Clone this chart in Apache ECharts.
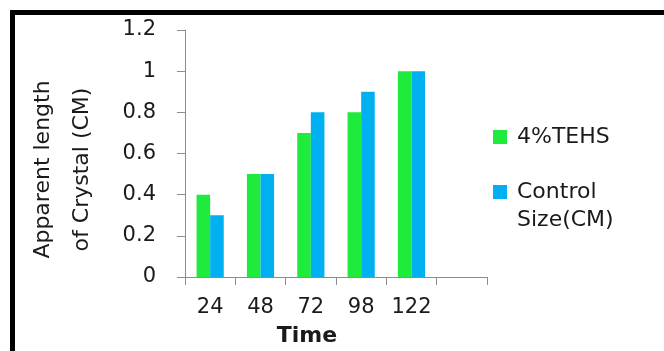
<!DOCTYPE html>
<html>
<head>
<meta charset="utf-8">
<script src="https://cdn.jsdelivr.net/npm/echarts@6/dist/echarts.min.js"></script>
<style>
  html, body { margin: 0; padding: 0; background: #fff; }
  #chart-container { width: 664px; height: 351px; }
</style>
</head>
<body>
<div id="chart-container"></div>
<script>
var times = ['24', '48', '72', '98', '122', ''];
var tehs = [0.4, 0.5, 0.7, 0.8, 1.0, null];
var control = [0.3, 0.5, 0.8, 0.9, 1.0, null];
var yTicks = { min: 0, max: 1.2, interval: 0.2 };

var dom = document.getElementById('chart-container');
var myChart = echarts.init(dom, null, { renderer: 'canvas' });

var font = 'DejaVu Sans';
var textColor = '#1a1a1a';
var axisGray = '#8c8c8c';
// 14px square at top-left, plus a tiny speck in the far corner to size the icon box
var squareIcon = 'path://M0,0H14V14H0ZM18.9,13.9H19V14H18.9Z';
var tallIcon = 'path://M0,0H14V14H0ZM18.9,41.9H19V42H18.9Z';

var option = {
    animation: false,
    backgroundColor: '#fff',
    graphic: [{
        type: 'rect',
        shape: { x: 12.5, y: 12.5, width: 720, height: 420 },
        style: { fill: null, stroke: '#000', lineWidth: 5 },
        silent: true
    }],
    grid: { left: 185, right: 177, top: 30, bottom: 74, outerBoundsMode: 'none' },
    legend: [{
        data: ['4%TEHS'],
        orient: 'vertical',
        left: 493,
        top: 123,
        padding: 0,
        icon: squareIcon,
        itemWidth: 19,
        itemHeight: 14,
        textStyle: { fontFamily: font, fontSize: 22, color: textColor, lineHeight: 28 }
    }, {
        data: ['Control\nSize(CM)'],
        orient: 'vertical',
        left: 493,
        top: 178,
        padding: 0,
        icon: tallIcon,
        itemWidth: 19,
        itemHeight: 42,
        textStyle: { fontFamily: font, fontSize: 22, color: textColor, lineHeight: 28 }
    }],
    xAxis: {
        type: 'category',
        data: times,
        name: 'Time',
        nameLocation: 'middle',
        nameGap: 48,
        nameTextStyle: { fontFamily: font, fontSize: 22, fontWeight: 'bold', color: textColor, padding: [0, 58, 0, 0] },
        axisLine: { lineStyle: { color: axisGray, width: 1 } },
        axisTick: { show: true, length: 8, lineStyle: { color: axisGray } },
        axisLabel: { interval: 0, fontFamily: font, fontSize: 21, color: textColor, margin: 20 }
    },
    yAxis: {
        type: 'value',
        min: yTicks.min,
        max: yTicks.max,
        interval: yTicks.interval,
        name: 'Apparent length\nof Crystal (CM)',
        nameLocation: 'middle',
        nameGap: 83,
        nameTextStyle: { fontFamily: font, fontSize: 22, color: textColor, lineHeight: 39, padding: [0, 32, 0, 0] },
        axisLine: { show: true, lineStyle: { color: axisGray, width: 1 } },
        axisTick: { show: true, length: 8, lineStyle: { color: axisGray } },
        splitLine: { show: false },
        axisLabel: { fontFamily: font, fontSize: 21, color: textColor, margin: 29 }
    },
    series: [{
        name: '4%TEHS',
        type: 'bar',
        data: tehs,
        barGap: '0%',
        barCategoryGap: '46%',
        itemStyle: { color: '#1eeb3c' }
    }, {
        name: 'Control\nSize(CM)',
        type: 'bar',
        data: control,
        barGap: '0%',
        barCategoryGap: '46%',
        itemStyle: { color: '#00b0f0' }
    }]
};

myChart.setOption(option);
window.addEventListener('resize', myChart.resize);
</script>
</body>
</html>
